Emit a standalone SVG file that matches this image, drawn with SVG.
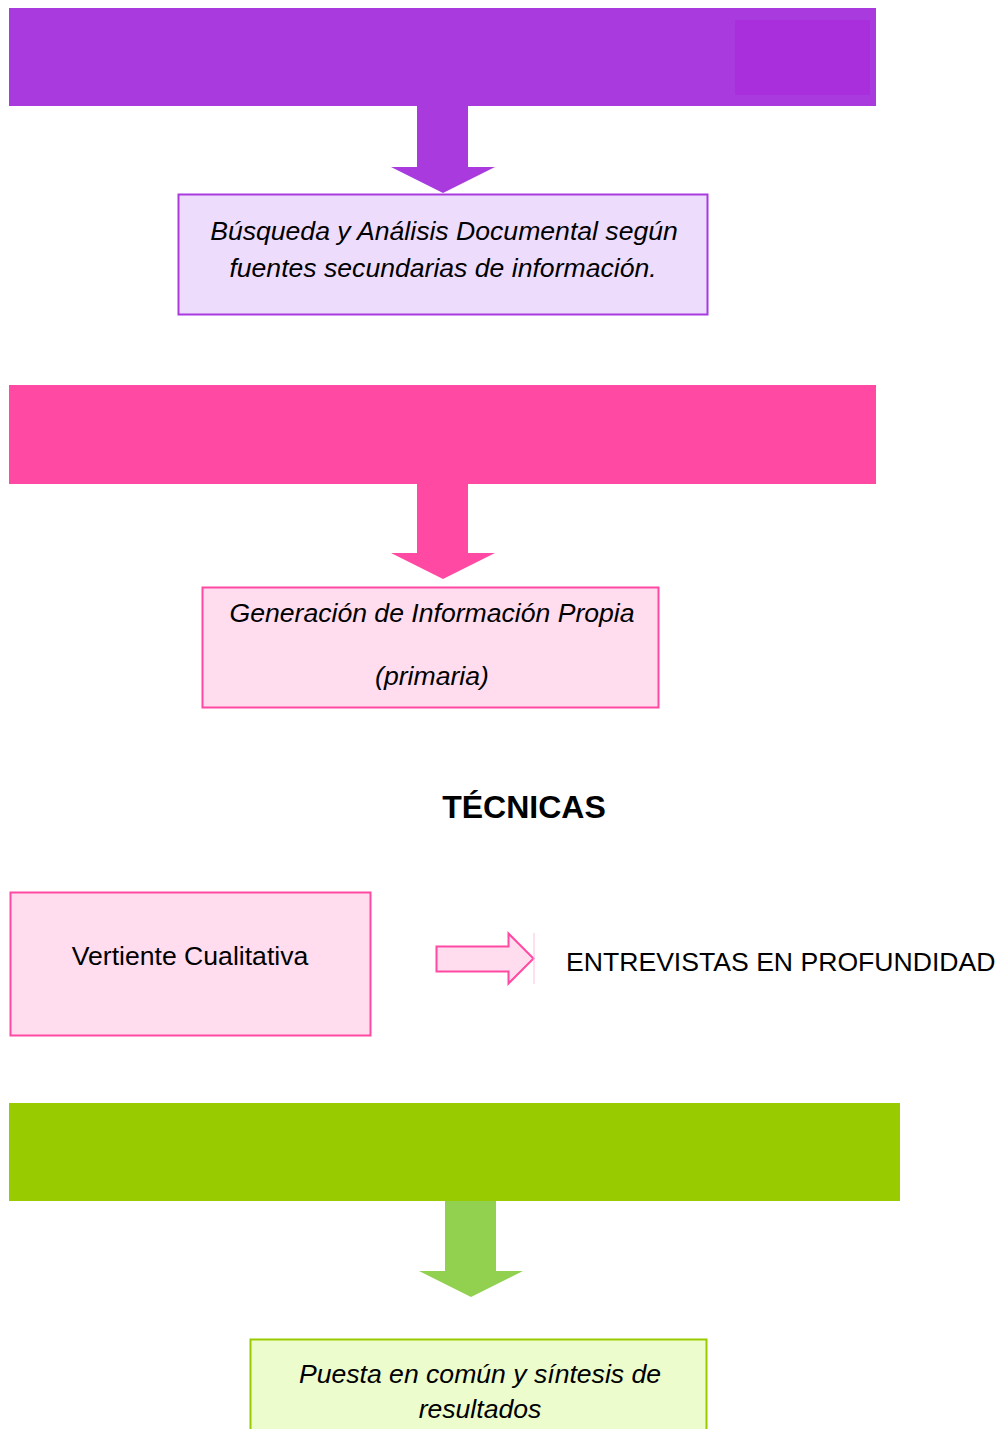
<svg xmlns="http://www.w3.org/2000/svg" width="999" height="1429" viewBox="0 0 999 1429">
<style>
text{font-family:"Liberation Sans",Arial,sans-serif;fill:#000}
.it{font-style:italic;font-size:26.6px}
.rg{font-size:26.6px}
</style>
<rect width="999" height="1429" fill="#fff"/>
<g id="bar-purple">
<rect x="9" y="8" width="867" height="98" fill="#a93bde"/>
<rect x="735" y="20" width="135" height="75" fill="#a82fdb"/>
</g>
<g id="box-busqueda">
<rect x="178.5" y="194.5" width="529" height="120" fill="#eedcfd" stroke="#a93bde" stroke-width="2"/>
<text class="it" x="444" y="240" text-anchor="middle">Búsqueda y Análisis Documental según</text>
<text class="it" x="443" y="277" text-anchor="middle">fuentes secundarias de información.</text>
</g>
<g id="bar-pink">
<rect x="9" y="385" width="867" height="99" fill="#ff49a3"/>
</g>
<g id="box-generacion">
<rect x="202.5" y="587.5" width="456" height="120" fill="#ffdcee" stroke="#ff49a3" stroke-width="2"/>
<text class="it" x="432" y="622" text-anchor="middle">Generación de Información Propia</text>
<text class="it" x="432" y="685" text-anchor="middle">(primaria)</text>
</g>
<g id="title-tecnicas">
<text x="524" y="818" text-anchor="middle" font-size="32" font-weight="bold">TÉCNICAS</text>
</g>
<g id="box-vertiente">
<rect x="10.5" y="892.5" width="360" height="143" fill="#ffdcee" stroke="#ff49a3" stroke-width="2"/>
<text class="rg" x="190" y="965" text-anchor="middle">Vertiente Cualitativa</text>
</g>
<g id="label-entrevistas">
<text class="rg" x="566" y="971">ENTREVISTAS EN PROFUNDIDAD</text>
</g>
<g id="bar-green">
<rect x="9" y="1103" width="891" height="98" fill="#99cc00"/>
</g>
<g id="box-puesta">
<rect x="250.5" y="1339.5" width="456" height="100" fill="#ecfccc" stroke="#99cc00" stroke-width="2"/>
<text class="it" x="480" y="1383" text-anchor="middle">Puesta en común y síntesis de</text>
<text class="it" x="480" y="1418" text-anchor="middle">resultados</text>
</g>
<g id="connectors">
<polygon points="417,106 468,106 468,167 495,167 443,193 391,167 417,167" fill="#a93bde"/>
<polygon points="417,484 468,484 468,553 495,553 443,579 391,553 417,553" fill="#ff49a3"/>
<polygon points="436.5,946.5 508.5,946.5 508.5,933.5 533.5,958.5 508.5,983.5 508.5,971.5 436.5,971.5" fill="#ffdcee" stroke="#ff49a3" stroke-width="2"/>
<line x1="534" y1="933" x2="534" y2="984" stroke="#ffc0dc" stroke-width="1"/>
<polygon points="445,1201 496,1201 496,1271 523,1271 471,1297 419,1271 445,1271" fill="#92d050"/>
</g>
</svg>
